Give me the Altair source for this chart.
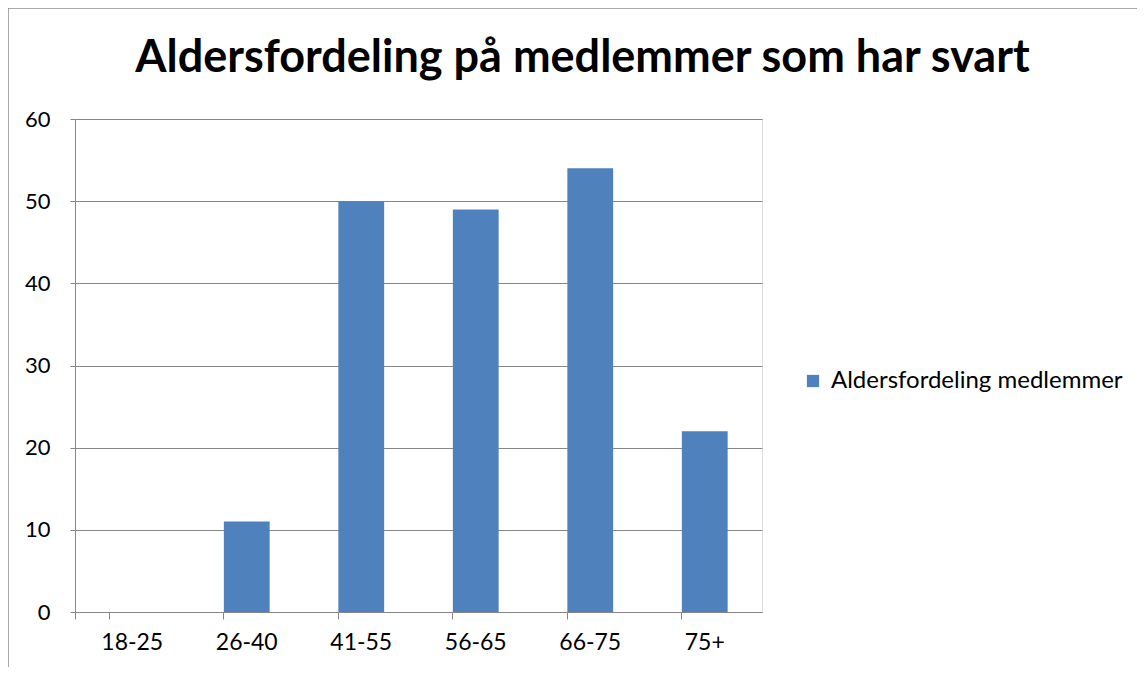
import altair as alt
import pandas as pd

categories = ["18-25", "26-40", "41-55", "56-65", "66-75", "75+"]
values = [0, 11, 50, 49, 54, 22]
series_name = "Aldersfordeling medlemmer"
title_text = "Aldersfordeling på medlemmer som har svart"
y_ticks = [0, 10, 20, 30, 40, 50, 60]

df = pd.DataFrame({"Aldersgruppe": categories, "Antall": values, "Serie": [series_name] * len(categories)})

FONT = "Lato"
GRID = "#868686"
W, H = 687, 493

bars = alt.Chart(df).mark_bar(color="#4F81BD").encode(
    x=alt.X("Aldersgruppe:N", sort=categories,
            scale=alt.Scale(paddingInner=0.6, paddingOuter=0.3),
            axis=alt.Axis(title=None, labelAngle=0, labelFontSize=23, labelFont=FONT,
                          labelColor="#000000", labelPadding=12, tickSize=7, tickColor=GRID,
                          domainColor=GRID, bandPosition=0, tickExtra=True, grid=False)),
    y=alt.Y("Antall:Q", scale=alt.Scale(domain=[0, 60], nice=False),
            axis=alt.Axis(title=None, values=y_ticks, labelFontSize=22, labelFont=FONT,
                          labelColor="#000000", labelPadding=20, tickSize=5, tickColor=GRID,
                          domainColor=GRID, grid=True, gridColor=GRID, gridOpacity=1)),
    fill=alt.Fill("Serie:N", scale=alt.Scale(range=["#4F81BD"]),
                  legend=alt.Legend(title=None, orient="none", legendX=726, legendY=250,
                                    symbolType="square", symbolSize=150, symbolStrokeWidth=0,
                                    labelFontSize=24, labelFont=FONT, labelColor="#000000",
                                    labelLimit=400, labelOffset=6)),
)

border_data = alt.Data(values=[{"k": 1}])
left_border = alt.Chart(border_data).mark_rule(color="#8C8C8C", strokeWidth=1.5).encode(
    x=alt.value(-67), y=alt.value(-111), y2=alt.value(H + 60))
top_border = alt.Chart(border_data).mark_rule(color="#8C8C8C", strokeWidth=1.5).encode(
    x=alt.value(-67), x2=alt.value(1080), y=alt.value(-111))

chart = alt.layer(bars, left_border, top_border).properties(
    width=W, height=H,
    title=alt.TitleParams(title_text, font=FONT, fontSize=45, fontWeight="bold", color="#000000",
                          anchor="middle", frame="group", dx=164, offset=0, dy=74),
    autosize=alt.AutoSizeParams(type="none"),
    padding={"left": 67, "top": 111, "right": 375, "bottom": 55},
).configure_view(stroke=None).configure(background="white")

chart.save("out.html", embed_options={"renderer": "svg", "actions": False})
